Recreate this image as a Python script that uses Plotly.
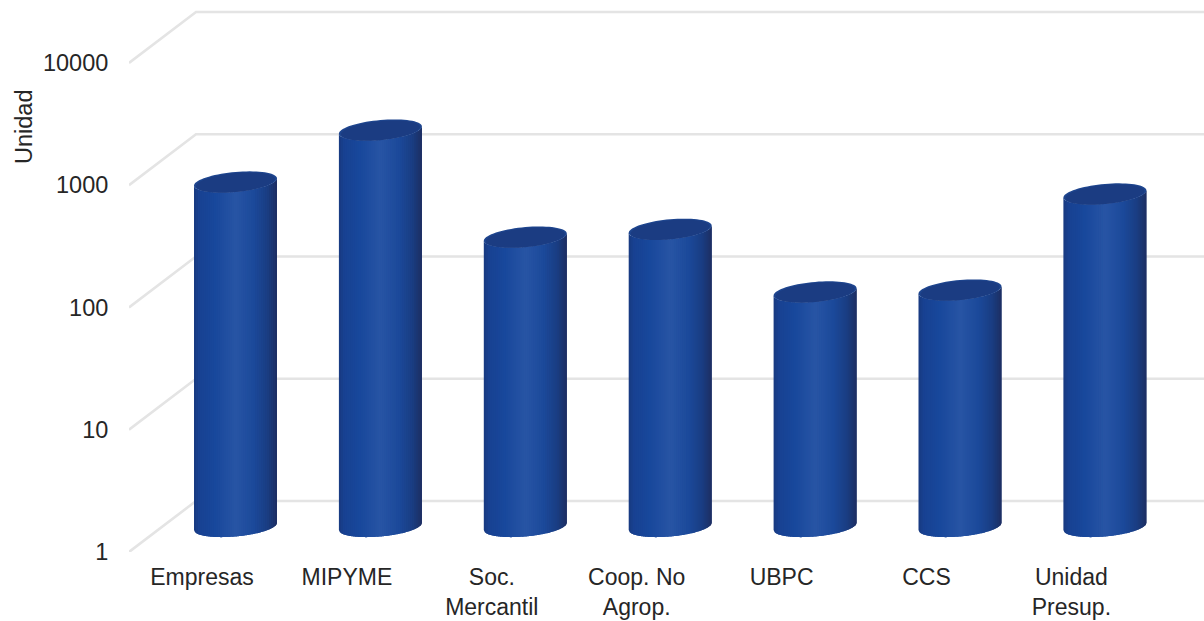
import numpy as np
import plotly.graph_objects as go

# ---- data ----
categories = ["Empresas", "MIPYME", "Soc.<br>Mercantil", "Coop. No<br>Agrop.", "UBPC", "CCS", "Unidad<br>Presup."]
values = [658, 1750, 233, 270, 83, 86, 525]
y_ticks = [1, 10, 100, 1000, 10000]
y_title = "Unidad"

# ---- geometry (page pixels per axis unit, 3D-look offsets) ----
PX_W, PX_H = 1204, 621
LEFT, BOTTOM_PX = 129, 552
CAT_PX, DEC_PX = 144.9, 122.25
FIRST_CAT_PX = 202
DEPTH_X, DEPTH_Y = 67, 51
A, B, TILT = 41.5, 10.0, 3.6

# body shading across a cylinder, left to right
STOPS = [(0.00, (25, 58, 128)), (0.06, (24, 66, 146)), (0.25, (24, 72, 156)), (0.50, (40, 85, 165)),
         (0.72, (28, 74, 155)), (0.88, (26, 62, 132)), (0.96, (28, 52, 110)), (1.00, (30, 46, 98))]
N_STRIPS = 42


def shade(f):
    xs = [s[0] for s in STOPS]
    return "rgb(%d,%d,%d)" % tuple(np.interp(f, xs, [s[1][k] for s in STOPS]) for k in range(3))


def px_x(i, dx):
    return i + dx / CAT_PX


def px_y(v, dy):
    """value v shifted dy pixels downward on the log axis"""
    return v * 10 ** (-dy / DEC_PX)


fig = go.Figure()

# back-wall lines and the diagonals of the floor/wall planes
x_left = (LEFT - FIRST_CAT_PX) / CAT_PX
x_right = (PX_W - FIRST_CAT_PX) / CAT_PX
for t in y_ticks:
    fig.add_trace(go.Scatter(
        x=[x_left, px_x(x_left, DEPTH_X), x_right],
        y=[t, px_y(t, -DEPTH_Y), px_y(t, -DEPTH_Y)],
        mode="lines", line=dict(color="#e4e4e4", width=2.6), hoverinfo="skip", showlegend=False))

# cylinder bodies: one trace per shade, holding one strip for every category
for s in range(N_STRIPS):
    u0 = -1 + 2 * s / N_STRIPS
    u1 = min(1.0, -1 + 2 * (s + 2) / N_STRIPS)
    us = np.linspace(u0, u1, 5)
    xs, ys = [], []
    for i, v in enumerate(values):
        cx = DEPTH_X / 2
        down = B * np.sqrt(np.clip(1 - us ** 2, 0, 1)) - TILT * us
        xs += list(px_x(i, cx + A * us)) + list(px_x(i, cx + A * us[::-1])) + [None]
        ys += list(px_y(1, -DEPTH_Y / 2 + down)) + list(px_y(v, -DEPTH_Y / 2 + down[::-1])) + [None]
    fig.add_trace(go.Scatter(x=xs, y=ys, mode="none", fill="toself",
                             fillcolor=shade((s + 0.5) / N_STRIPS), hoverinfo="skip", showlegend=False))

# cylinder tops
t = np.linspace(0, 2 * np.pi, 73)
for scale, shift, col in [(1.0, 0, "#1e458e"), (0.95, 0.6, "#1b3c82")]:
    xs, ys = [], []
    for i, v in enumerate(values):
        dx = A * scale * np.cos(t)
        dy = B * scale * np.sin(t) - TILT * np.cos(t)
        xs += list(px_x(i, DEPTH_X / 2 + dx)) + [None]
        ys += list(px_y(v, -DEPTH_Y / 2 + shift + dy)) + [None]
    fig.add_trace(go.Scatter(x=xs, y=ys, mode="none", fill="toself", fillcolor=col,
                             hoverinfo="skip", showlegend=False))

FONT = dict(family="Liberation Sans, Arial, sans-serif", size=23.5, color="#262626")
XFONT = dict(family="Liberation Sans, Arial, sans-serif", size=23, color="#262626")
fig.update_layout(
    width=PX_W, height=PX_H, autosize=False,
    margin=dict(l=LEFT, r=0, t=0, b=PX_H - BOTTOM_PX, pad=0),
    paper_bgcolor="white", plot_bgcolor="white", font=FONT, showlegend=False,
    xaxis=dict(range=[x_left, x_right], tickvals=list(range(len(categories))), ticktext=categories,
               automargin=False,
               showgrid=False, zeroline=False, showline=False, ticks="outside", ticklen=4,
               tickcolor="rgba(0,0,0,0)", tickfont=XFONT),
    yaxis=dict(type="log", range=[0, BOTTOM_PX / DEC_PX], tickvals=y_ticks, ticktext=[str(v) for v in y_ticks],
               automargin=False,
               showgrid=False, zeroline=False, showline=False, ticks="outside", ticklen=15,
               tickcolor="rgba(0,0,0,0)", tickfont=FONT),
    annotations=[dict(text=y_title, textangle=-90, showarrow=False, font=FONT,
                      xref="paper", yref="paper", xanchor="center", yanchor="middle",
                      x=(24 - LEFT) / (PX_W - LEFT), y=(BOTTOM_PX - 127) / BOTTOM_PX)],
)

fig.write_html("out.html", config={"displayModeBar": False},
               post_script="document.body.style.margin='0';document.body.style.overflow='hidden';")
